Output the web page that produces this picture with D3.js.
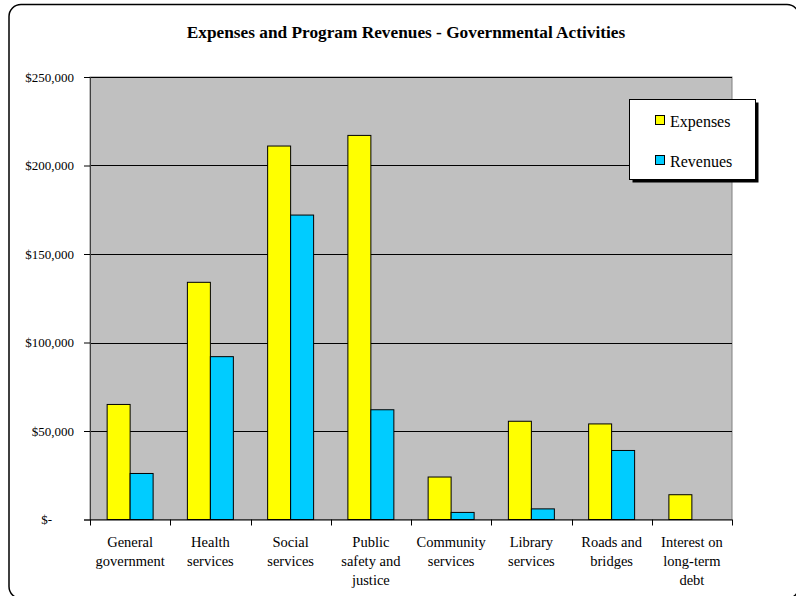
<!DOCTYPE html>
<html><head><meta charset="utf-8">
<script src="https://cdn.jsdelivr.net/npm/d3@7"></script>
<style>body{margin:0;background:#fff;} svg{display:block;} svg text{font-family:"Liberation Serif","Times New Roman",Tinos,serif;}</style>
</head><body>
<svg id="c" width="796" height="596"></svg>
<script>
const categories = [["General","government"],["Health","services"],["Social","services"],["Public","safety and","justice"],["Community","services"],["Library","services"],["Roads and","bridges"],["Interest on","long-term","debt"]];
const seriesNames = ["Expenses","Revenues"];
const expenses = [65000,134000,211000,217000,24000,55500,54000,14000];
const revenues = [26000,92000,172000,62000,4000,6000,39000,0];
const yTicks = [0,50000,100000,150000,200000,250000];
const colors = ["#FFFF00","#00CCFF"];

const svg = d3.select("#c");
// outer rounded border
svg.append("rect").attr("x",9).attr("y",4.5).attr("width",790).attr("height",594).attr("rx",12)
  .attr("fill","#fff").attr("stroke","#000").attr("stroke-width",1.5);

svg.append("text").attr("x",406).attr("y",38).attr("text-anchor","middle")
  .attr("font-weight","bold").attr("font-size",17.3)
  .text("Expenses and Program Revenues - Governmental Activities");

const L=90,R=732,T=77,B=519.5;
const x0 = d3.scaleBand().domain(d3.range(categories.length)).range([L,R]).paddingInner(0.427).paddingOuter(0.2135);
const x1 = d3.scaleBand().domain([0,1]).range([0,x0.bandwidth()]);
const y = d3.scaleLinear().domain([0,250000]).range([B,T]);

svg.append("rect").attr("x",L).attr("y",T).attr("width",R-L).attr("height",B-T).attr("fill","#C0C0C0")
  .attr("stroke","#808080").attr("stroke-width",1);

// gridlines
svg.append("g").selectAll("line").data(yTicks.filter(d=>d>0)).join("line")
  .attr("x1",L).attr("x2",R).attr("y1",d=>Math.round(y(d))+0.5).attr("y2",d=>Math.round(y(d))+0.5)
  .attr("stroke","#000").attr("stroke-width",1);

// bars
const data = categories.map((c,i)=>[expenses[i],revenues[i]]);
const g = svg.append("g").selectAll("g").data(data).join("g").attr("transform",(d,i)=>`translate(${x0(i)},0)`);
g.selectAll("rect").data(d=>d.map((v,k)=>({v,k})).filter(e=>e.v>0)).join("rect")
  .attr("x",e=>x1(e.k)).attr("width",x1.bandwidth()).attr("y",e=>y(e.v)).attr("height",e=>B-y(e.v))
  .attr("fill",e=>colors[e.k]).attr("stroke","#000").attr("stroke-width",1);

// y axis
const yAxis = d3.axisLeft(y).tickValues(yTicks).tickSize(6).tickPadding(10)
  .tickFormat(d=> d===0 ? "$-" : "$"+d3.format(",")(d));
const ya = svg.append("g").attr("transform",`translate(${L},0)`).call(yAxis);
ya.attr("font-family",null);
ya.select(".domain").attr("stroke","#404040");
ya.selectAll(".tick line").attr("stroke","#000");
ya.selectAll("text").attr("font-size",13).attr("fill","#000");
ya.selectAll(".tick").filter(d=>d===0).select("text").attr("x",-38);

// x axis
const xa = svg.append("g").attr("transform",`translate(0,${B})`);
xa.append("line").attr("x1",L).attr("x2",R).attr("y1",0.5).attr("y2",0.5).attr("stroke","#000");
const edges = d3.range(categories.length+1).map(i=> i<categories.length ? x0(i)-x0.step()*x0.paddingOuter() : R);
xa.selectAll(".tk").data(edges).join("line").attr("class","tk")
  .attr("x1",d=>Math.round(d)+0.5).attr("x2",d=>Math.round(d)+0.5).attr("y1",0).attr("y2",6).attr("stroke","#000");
const lbl = xa.selectAll(".lb").data(categories).join("text").attr("class","lb")
  .attr("x",(d,i)=>x0(i)+x0.bandwidth()/2).attr("y",27)
  .attr("text-anchor","middle").attr("font-size",14.5).attr("fill","#000");
lbl.selectAll("tspan").data(d=>d).join("tspan").attr("x",function(){return this.parentNode.getAttribute("x");})
  .attr("dy",(d,i)=>i===0?0:19).text(d=>d);

// legend
const lg = svg.append("g");
lg.append("rect").attr("x",632.5).attr("y",102.5).attr("width",126).attr("height",80).attr("fill","#000");
lg.append("rect").attr("x",629.5).attr("y",99.5).attr("width",126).attr("height",80).attr("fill","#fff").attr("stroke","#000");
seriesNames.forEach((s,k)=>{
  lg.append("rect").attr("x",655.5).attr("y",115.5+k*40).attr("width",9).attr("height",9).attr("fill",colors[k]).attr("stroke","#000");
  lg.append("text").attr("x",670).attr("y",126.5+k*40).attr("font-size",16).attr("fill","#000").text(s);
});
</script>
</body></html>
